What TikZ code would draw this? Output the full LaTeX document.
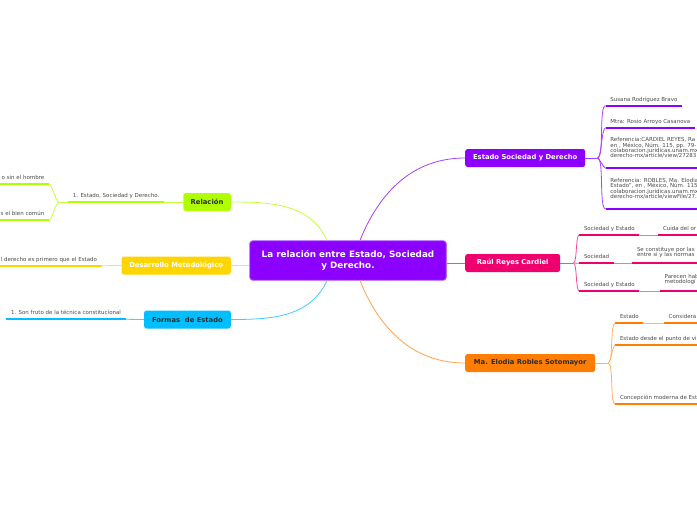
\documentclass[tikz,border=0pt]{standalone}
\usepackage{fontspec}
\setmainfont{DejaVu Sans}
\usetikzlibrary{positioning}
\definecolor{purp}{RGB}{139,0,255}
\definecolor{purpedge}{RGB}{185,110,255}
\definecolor{pinkc}{RGB}{240,0,110}
\definecolor{orangec}{RGB}{255,125,0}
\definecolor{greenc}{RGB}{175,255,0}
\definecolor{yellowc}{RGB}{255,213,0}
\definecolor{cyanc}{RGB}{0,190,255}
\definecolor{leafgrey}{RGB}{75,75,75}
\definecolor{topicdark}{RGB}{45,45,45}
\newcommand\leaffont{\fontsize{5.5}{5.25}\selectfont\lineskiplimit=-5pt\lineskip=0pt}
\newcommand\topicfont{\bfseries\fontsize{6.8}{8}\selectfont}

\begin{document}
\begin{tikzpicture}[x=1pt,y=-1pt,
				central/.style={fill=purp,draw=purpedge,line width=0.8,rounded corners=3,text=white,align=center,
					font=\bfseries\fontsize{8.8}{11.3}\selectfont,minimum width=196.7,minimum height=39.6,inner sep=0pt},
				topic/.style={rounded corners=2.5,minimum height=18,inner sep=0pt,font=\topicfont},
				leaf/.style={anchor=south west,inner xsep=4.5,inner ysep=4.5,text depth=0pt,align=left,font=\leaffont,text=leafgrey},
				leafl/.style={leaf,anchor=south east},
				uline/.style={line width=2.2},
				link/.style={line width=0.8},
				fork/.style={link,looseness=0.35}]
				\fill[white] (0,0) rectangle (697,520);
				\path[use as bounding box] (0,0) rectangle (697,520);
				\clip (0,0) rectangle (697,520);

				% centre and main topics
				\node[central] (central) at (348,260.5) {La relación entre Estado, Sociedad\\y Derecho.};
				\node[topic,fill=purp,text=white,minimum width=120,anchor=west]      (esd)        at (465,158)   {Estado Sociedad y Derecho};
				\node[topic,fill=pinkc,text=white,minimum width=95,anchor=west]      (raul)       at (465,263)   {Raúl Reyes Cardiel};
				\node[topic,fill=orangec,text=topicdark,minimum width=130,anchor=west] (elodia)   at (465,363)   {Ma. Elodia Robles Sotomayor};
				\node[topic,fill=greenc,text=topicdark,minimum width=47.5,anchor=east] (relacion) at (231,202)   {Relación};
				\node[topic,fill=yellowc,text=white,minimum width=109.3,anchor=east] (desarrollo) at (231,265.5) {Desarrollo Metodológico};
				\node[topic,fill=cyanc,text=topicdark,minimum width=86.7,anchor=east] (formas)    at (231,319.5) {Formas\ \ de Estado};

				\draw[link,purp!75]    ([xshift=12]central.north) to[out=68,in=180] (esd.west);
				\draw[link,pinkc!70]   (central.east |- raul.west) -- (raul.west);
				\draw[link,orangec!70] ([xshift=12]central.south) to[out=-68,in=180] (elodia.west);
				\draw[link,greenc!75]  ([xshift=-21]central.north) to[out=115,in=0] (relacion.east);
				\draw[link,yellowc!70] (central.west |- desarrollo.east) -- (desarrollo.east);
				\draw[link,cyanc!75]   ([xshift=-21]central.south) to[out=-115,in=0] (formas.east);

				% Estado Sociedad y Derecho
				\node[leaf] (susana) at (605.7,105.7) {Susana Rodríguez Bravo};
				\node[leaf] (mtra)   at (605.7,127.7) {Mtra: Rosio Arroyo Casanova};
				\node[leaf,text depth=6] (refcardiel) at (605.7,168.3)
					{Referencia:CARDIEL REYES, Ra\\en , México, Núm. 115, pp. 79-\\colaboracion.juridicas.unam.mx\\derecho-mx/article/view/27283};
				\node[leaf,text depth=6] (refrobles) at (605.7,209)
					{Referencia: ROBLES, Ma. Elodia\\Estado”, en , México, Núm. 115\\colaboracion.juridicas.unam.mx\\derecho-mx/article/viewFile/27.};
				\coordinate (esdj) at ([xshift=12]esd.east);
				\draw[link,purp!75] (esd.east) -- (esdj);
				\foreach \l in {susana,mtra,refcardiel,refrobles}
					\draw[fork,purp!75] (esdj) to[out=0,in=180] (\l.south west);

				% Raul Reyes Cardiel
				\node[leaf] (socest1) at (579.3,235)   {Sociedad y Estado};
				\node[leaf] (cuida)   at (658.3,235)   {Cuida del or};
				\node[leaf] (soc)     at (579.3,263.3) {Sociedad};
				\node[leaf,text depth=2.3] (constituye) at (632.3,263.3) {Se constituye por las\\entre si y las normas};
				\node[leaf] (socest2) at (579.3,291)   {Sociedad y Estado};
				\node[leaf,text depth=2.5] (parecen) at (660,291) {Parecen hab\\metodologí};
				\coordinate (raulj) at ([xshift=13]raul.east);
				\draw[link,pinkc!70] (raul.east) -- (raulj);
				\foreach \l in {socest1,soc,socest2}
					\draw[fork,pinkc!70] (raulj) to[out=0,in=180] (\l.south west);
				\draw[link,pinkc!55] (socest1.south east) -- (cuida.south west);
				\draw[link,pinkc!55] (soc.south east) -- (constituye.south west);
				\draw[link,pinkc!55] (socest2.south east) -- (parecen.south west);

				% Ma. Elodia Robles Sotomayor
				\node[leaf] (estado)    at (615.3,323.3) {Estado};
				\node[leaf] (considera) at (664,323.3)   {Considera};
				\node[leaf] (desde)     at (615.3,345)   {Estado desde el punto de vi};
				\node[leaf] (moderna)   at (615.3,404.3) {Concepción moderna de Est};
				\coordinate (elodiaj) at ([xshift=12.7]elodia.east);
				\draw[link,orangec!60] (elodia.east) -- (elodiaj);
				\foreach \l in {estado,desde,moderna}
					\draw[fork,orangec!60] (elodiaj) to[out=0,in=180] (\l.south west);
				\draw[link,orangec!55] (estado.south east) -- (considera.south west);

				% left side
				\node[leafl] (estsocder) at (164,202)     {1. Estado, Sociedad y Derecho.};
				\node[leafl] (hombre)    at (49,184)      {o sin el hombre};
				\node[leafl] (bien)      at (49,220.3)    {s el bien común};
				\node[leafl] (primero)   at (101.7,265.7) {l derecho es primero que el Estado};
				\node[leafl] (fruto)     at (125.7,319.3) {1. Son fruto de la técnica constitucional};
				\draw[link,greenc!75]  (relacion.west) -- (estsocder.south east);
				\coordinate (relj) at ([xshift=-9.4]estsocder.south west);
				\draw[link,greenc!75]  (estsocder.south west) -- (relj);
				\foreach \l in {hombre,bien}
					\draw[fork,greenc!75] (relj) to[out=180,in=0] (\l.south east);
				\draw[link,yellowc!70] (desarrollo.west) -- (primero.south east);
				\draw[link,cyanc!75]   (formas.west) -- (fruto.south east);

				% underlines
				\foreach \l/\c in {susana/purp,mtra/purp,socest1/pinkc,soc/pinkc,socest2/pinkc,
					estado/orangec,estsocder/greenc,fruto/cyanc}
					\draw[uline,\c] (\l.south west) -- (\l.south east);
				% underlines running off the right edge
				\foreach \l/\c in {refcardiel/purp,refrobles/purp,cuida/pinkc,constituye/pinkc,parecen/pinkc,
					considera/orangec,desde/orangec,moderna/orangec}
					\draw[uline,\c] (\l.south west) -- ([xshift=120]\l.south west);
				% underlines running off the left edge
				\foreach \l/\c in {hombre/greenc,bien/greenc,primero/yellowc}
					\draw[uline,\c] (\l.south east) -- ([xshift=-120]\l.south east);
			\end{tikzpicture}
\end{document}
